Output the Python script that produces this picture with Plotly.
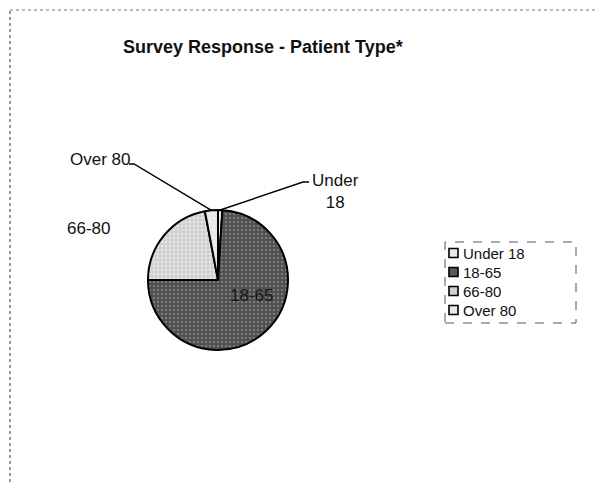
import math
import plotly.graph_objects as go

categories = ["Under 18", "18-65", "66-80", "Over 80"]
values = [1, 74, 22, 3]
title_text = "Survey Response - Patient Type*"

W, H = 595, 482
cx, cy, r = 218, 280, 70  # pie centre / radius in px

colors = ["#eeeeee", "#4e4e4e", "#d0d0d0", "#e6e6e6"]
pattern_fg = ["#9a9a9a", "#a8a8a8", "#ffffff", "#ffffff"]
legend_fill = ["#e8e8e8", "#5a5a5a", "#cfcfcf", "#e6e6e6"]

FONT = "Liberation Sans, Arial, sans-serif"

fig = go.Figure()
fig.add_trace(go.Pie(
    labels=categories,
    values=values,
    sort=False,
    direction="clockwise",
    rotation=0,
    domain=dict(x=[(cx - r) / W, (cx + r) / W], y=[1 - (cy + r) / H, 1 - (cy - r) / H]),
    marker=dict(colors=colors, line=dict(color="#000000", width=2),
                pattern=dict(shape=".", fgcolor=pattern_fg, fillmode="overlay",
                             size=4, solidity=0.3)),
    textinfo="none",
    showlegend=False,
    hoverinfo="label+percent",
))

# slice mid-angles (clockwise from 12 o'clock)
total = sum(values)
cum = 0
mids = []
for v in values:
    mids.append((cum + v / 2) / total * 2 * math.pi)
    cum += v

def on_pie(i, frac=1.0):
    a = mids[i]
    return cx + frac * r * math.sin(a), cy - frac * r * math.cos(a)

def P(x, y):
    return x / W, 1 - y / H

annotations = []
shapes = []

# outside labels: (slice, text, text centre, leader bend point, leader end point)
label_specs = [
    (0, "Under<br>18", (335, 192), (303, 182), (309, 182)),
    (3, "Over 80", (100, 160), (134, 164), (129, 164)),
    (2, "66-80", (88, 228), None, None),
]
for i, txt, (tx, ty), bend, end in label_specs:
    x, y = P(tx, ty)
    annotations.append(dict(x=x, y=y, xref="paper", yref="paper", showarrow=False,
                            xanchor="center", yanchor="middle",
                            text=txt, font=dict(family=FONT, size=17, color="#111111")))
    if bend is not None:
        px, py = on_pie(i)
        pts = [P(px, py), P(*bend), P(*end)]
        path = "M {} {} L {} {} L {} {}".format(*[c for p in pts for c in p])
        shapes.append(dict(type="path", xref="paper", yref="paper", path=path,
                           line=dict(color="#000000", width=1.4)))

# inside label of the large slice
px, py = on_pie(1, 0.5)
x, y = P(px + 10, py - 10)
annotations.append(dict(x=x, y=y, xref="paper", yref="paper", showarrow=False,
                        xanchor="center", yanchor="middle",
                        text=categories[1], font=dict(family=FONT, size=17, color="#151515")))

# title
x, y = P(263, 47)
annotations.append(dict(x=x, y=y, xref="paper", yref="paper", showarrow=False,
                        xanchor="center", yanchor="middle", text="<b>" + title_text + "</b>",
                        font=dict(family=FONT, size=18, color="#111111")))

# frame lines (top & left) of the scanned chart area
shapes.append(dict(type="line", xref="paper", yref="paper", x0=10 / W, x1=1, y0=1 - 10 / H, y1=1 - 10 / H,
                   line=dict(color="#777777", width=1, dash="dot")))
shapes.append(dict(type="line", xref="paper", yref="paper", x0=10 / W, x1=10 / W, y0=0, y1=1 - 10 / H,
                   line=dict(color="#555555", width=1.2, dash="dot")))

# legend box + entries
shapes.append(dict(type="rect", xref="paper", yref="paper", x0=445 / W, x1=576 / W,
                   y0=1 - 323 / H, y1=1 - 242 / H, line=dict(color="#555555", width=1, dash="dash")))
row_y = [253, 272, 291, 310]
for k, cat in enumerate(categories):
    yc = row_y[k]
    shapes.append(dict(type="rect", xref="paper", yref="paper",
                       x0=449 / W, x1=458 / W, y0=1 - (yc + 4.5) / H, y1=1 - (yc - 4.5) / H,
                       fillcolor=legend_fill[k], line=dict(color="#000000", width=1.6)))
    annotations.append(dict(x=461 / W, y=1 - yc / H, xref="paper", yref="paper", showarrow=False,
                            xanchor="left", yanchor="middle", text=cat,
                            font=dict(family=FONT, size=15, color="#111111")))

fig.update_layout(
    width=W, height=H,
    margin=dict(l=0, r=0, t=0, b=0),
    paper_bgcolor="white", plot_bgcolor="white",
    annotations=annotations,
    shapes=shapes,
    showlegend=False,
)

fig.write_html("out.html", config={"displayModeBar": False},
               post_script="document.body.style.margin='0';")
